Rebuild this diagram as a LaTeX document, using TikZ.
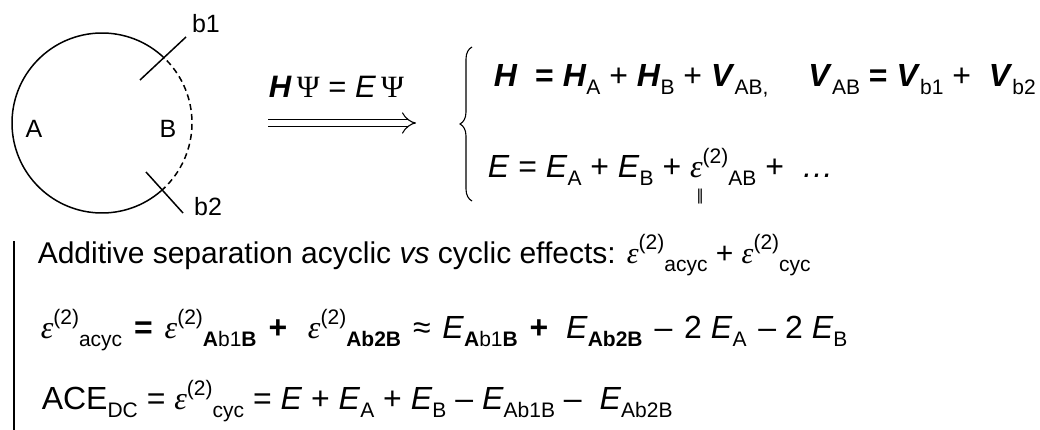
\documentclass[tikz,border=0pt]{standalone}
\usepackage{fontspec}
\setmainfont{Liberation Sans}
\newfontfamily\serifgr{Liberation Serif}
\newfontfamily\djv{DejaVu Sans}
\usetikzlibrary{arrows.meta,decorations.pathreplacing,calc}
\newcommand\sbs[1]{\raisebox{-8pt}{\fontsize{21}{21}\selectfont #1}}
\newcommand\sps[1]{\raisebox{14pt}{\fontsize{21}{21}\selectfont #1}}
\newcommand\veps{{\serifgr\itshape ε}}
\newcommand\bH{\textbf{\textit{H}}}
\newcommand\bV{\textbf{\textit{V}}}
\newcommand\iE{\textit{E}}
\newcommand\PsiS{{\serifgr Ψ}}
\newcommand\xs{\hspace{3pt}}
\begin{document}
\begin{tikzpicture}[x=1pt,y=-1pt,
  line width=1.5pt,
  lbl/.style={inner sep=0pt, font=\fontsize{25}{29}\selectfont},
  eqn/.style={anchor=base west, inner sep=0pt, font=\fontsize{32}{38}\selectfont},
  eqs/.style={anchor=base west, inner sep=0pt, font=\fontsize{30}{36}\selectfont},
  tick/.style={line width=1.5pt}]
\useasboundingbox[fill=white] (0,0) rectangle (1040,430);
% circle A-B
\coordinate (c) at (102,123);
\coordinate (p1) at ($(c)+(-46:90)$);
\coordinate (p2) at ($(c)+(49:90)$);
\draw (p1) arc[start angle=-46, end angle=-311, radius=90];
\draw[dashed, dash pattern=on 6pt off 4pt] (p2) arc[start angle=49, end angle=-46, radius=90];
\coordinate (t1a) at (140,80);
\coordinate (t1b) at (186,37);
\coordinate (t2a) at (146,172);
\coordinate (t2b) at (183,213);
\draw[tick] (t1a) -- (t1b);
\draw[tick] (t2a) -- (t2b);
\node[lbl] (b1) at (206,24) {b1};
\node[lbl] (b2) at (208,207) {b2};
\node[lbl] (A) at (34,129) {A};
\node[lbl] (B) at (168,129) {B};
% Schroedinger equation and arrow
\node[eqn, font=\fontsize{31}{36}\selectfont] (se) at (268,98) {\bH\,\PsiS\ = \iE\,\PsiS};
\coordinate (ar1) at (268,123);
\coordinate (ar2) at (416,123);
\draw[double, double distance=6.5pt, line width=1.1pt, -{Implies[length=9pt, width=18pt]}] (ar1) -- (ar2);
% brace
\coordinate (br1) at (472,201);
\coordinate (br2) at (472,47);
\draw[line width=1.1pt, decorate, decoration={brace, amplitude=12pt, aspect=0.5}] (br1) -- (br2);
% system
\node[eqn] (l1) at (493,87) {\bH\ \ \textbf{=} \bH\sbs{A} + \bH\sbs{B} + \bV\sbs{AB,}\hspace{40pt}\bV\sbs{AB} \textbf{=} \bV\sbs{b1} + \ \bV\sbs{b2}};
\node[eqn] (l2) at (487,178) {\iE\ = \iE\sbs{A} + \iE\sbs{B} + \veps\sps{(2)}\sbs{AB} + \ \textit{…}};
\node[inner sep=0pt, font=\djv\fontsize{15}{15}\selectfont] (par) at (700,197) {‖};
% lower block
\coordinate (v1) at (14,241);
\coordinate (v2) at (14,430);
\draw[line width=1.5pt] (v1) -- (v2);
\node[eqs] (add) at (37,263) {Additive separation acyclic \textit{vs} cyclic effects: \veps\sps{(2)}\sbs{acyc} + \veps\sps{(2)}\sbs{cyc}};
\node[eqn] (l3) at (40,338) {\veps\sps{(2)}\sbs{acyc} \xs\textbf{=} \xs\veps\sps{(2)}\sbs{\textbf{A}b1\textbf{B}} \xs\textbf{+} \ \xs\veps\sps{(2)}\sbs{\textbf{Ab2B}} \xs≈ \xs\iE\sbs{\textbf{A}b1\textbf{B}} \xs\textbf{+} \ \iE\sbs{\textbf{Ab2B}} \xs– \xs2 \iE\sbs{A} \xs– 2 \iE\sbs{B}};
\node[eqn] (l4) at (41,409) {ACE\sbs{DC} = \veps\sps{(2)}\sbs{cyc} = \iE\ + \iE\sbs{A} + \iE\sbs{B} – \iE\sbs{Ab1B} – \ \iE\sbs{Ab2B}};
\end{tikzpicture}
\end{document}
